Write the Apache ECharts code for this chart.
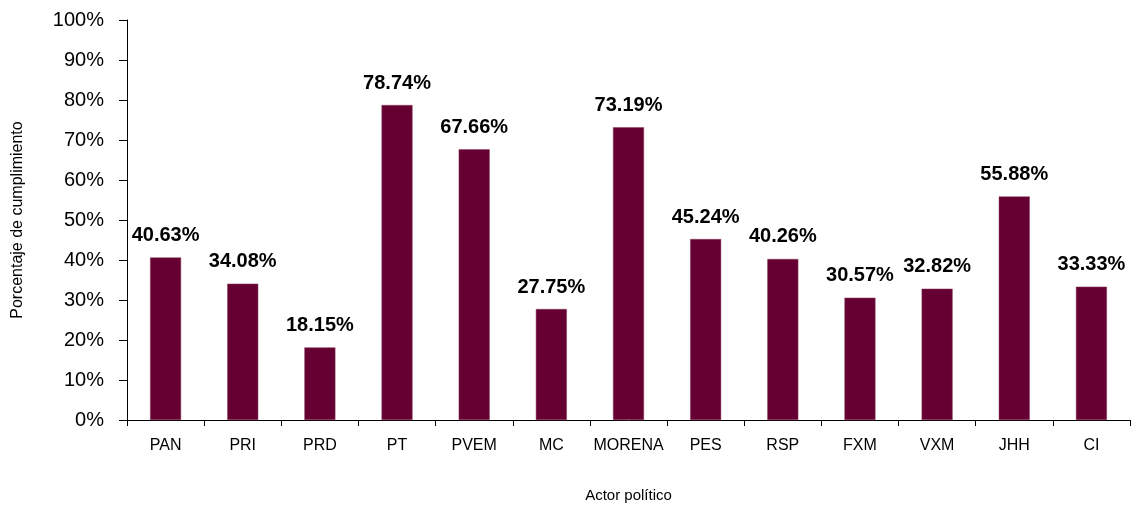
<!DOCTYPE html>
<html>
<head>
<meta charset="utf-8">
<script src="https://cdn.jsdelivr.net/npm/echarts@6/dist/echarts.min.js"></script>
<style>
html,body{margin:0;padding:0;background:#fff;}
#chart{width:1133px;height:508px;}
</style>
</head>
<body>
<div id="chart"></div>
<script>
var categories = ['PAN', 'PRI', 'PRD', 'PT', 'PVEM', 'MC', 'MORENA', 'PES', 'RSP', 'FXM', 'VXM', 'JHH', 'CI'];
var values = [40.63, 34.08, 18.15, 78.74, 67.66, 27.75, 73.19, 45.24, 40.26, 30.57, 32.82, 55.88, 33.33];

var font = '"Liberation Sans Narrow", "Arial Narrow", "Liberation Sans", Arial, sans-serif';

var chart = echarts.init(document.getElementById('chart'));
var option = {
    animation: false,
    grid: {left: 127, right: 3, top: 20, bottom: 88, containLabel: false, outerBoundsMode: 'none'},
    xAxis: {
        type: 'category',
        data: categories,
        name: 'Actor político',
        nameLocation: 'middle',
        nameGap: 68,
        nameTextStyle: {fontFamily: font, fontSize: 15, color: '#000'},
        axisLine: {lineStyle: {color: '#000', width: 1}},
        axisTick: {show: true, length: 6, lineStyle: {color: '#000'}},
        axisLabel: {interval: 0, fontFamily: font, fontSize: 16, color: '#000', margin: 18}
    },
    yAxis: {
        type: 'value',
        min: 0,
        max: 100,
        interval: 10,
        name: 'Porcentaje de cumplimiento',
        nameLocation: 'middle',
        nameGap: 101,
        nameTextStyle: {fontFamily: font, fontSize: 16, color: '#000'},
        axisLine: {show: true, lineStyle: {color: '#000', width: 1}},
        axisTick: {show: true, length: 8, lineStyle: {color: '#000'}},
        axisLabel: {fontFamily: font, fontSize: 20, color: '#000', margin: 23, formatter: '{value}%'},
        splitLine: {show: false}
    },
    series: [{
        type: 'bar',
        data: values,
        barWidth: 31,
        itemStyle: {color: '#660033', borderColor: '#8a3a5c', borderWidth: 0.5},
        label: {
            show: true,
            position: 'top',
            distance: 12,
            fontFamily: font,
            fontSize: 20,
            fontWeight: 'bold',
            color: '#000',
            formatter: function (p) { return p.value.toFixed(2) + '%'; }
        }
    }]
};
chart.setOption(option);
</script>
</body>
</html>
